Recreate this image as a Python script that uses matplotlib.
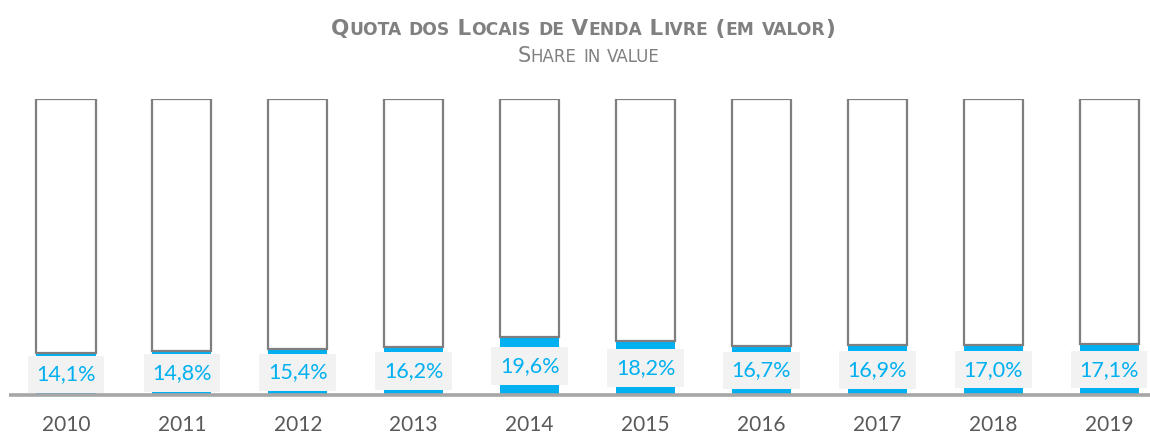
import matplotlib.pyplot as plt
plt.switch_backend('agg')

# Share of free-sale outlets, by year (percent)
years = ['2010', '2011', '2012', '2013', '2014', '2015', '2016', '2017', '2018', '2019']
share = [14.1, 14.8, 15.4, 16.2, 19.6, 18.2, 16.7, 16.9, 17.0, 17.1]

BLUE = '#00b0f0'
GRAY_EDGE = '#7f7f7f'
GRAY_TEXT = '#808080'
YEAR_TEXT = '#595959'

plt.rcParams['font.family'] = ['Lato', 'DejaVu Sans']

fig = plt.figure(figsize=(11.5, 4.36), dpi=100)
ax = fig.add_axes([0, 41 / 436, 1, 296 / 436])

x = list(range(len(years)))
rest = [100 - s for s in share]
ax.bar(x, share, width=0.51, color=BLUE, linewidth=0, zorder=2)
ax.bar(x, rest, bottom=share, width=0.51, color='white',
       edgecolor=GRAY_EDGE, linewidth=1.6, zorder=2)

# Value labels centred on the blue segment
for xi, s in zip(x, share):
  ax.text(xi, s / 2, ('%.1f%%' % s).replace('.', ','), ha='center', va='center',
          color=BLUE, fontsize=15.5, zorder=4,
          bbox=dict(boxstyle='square,pad=0.4', fc='#f2f2f2', ec='none'))

step = 115.9
ax.set_xlim(-66 / step, (1150 - 66) / step)
ax.set_ylim(0, 100)
ax.axis('off')

# Baseline
ax.plot([(9 - 66) / step, (1150 - 66) / step], [0, 0], color='#a6a6a6',
        linewidth=2.6, solid_capstyle='butt', zorder=5, clip_on=False)

for xi, y in zip(x, years):
  ax.text(xi, -10.1, y, ha='center', va='center', color=YEAR_TEXT, fontsize=15)


def small_caps(text, xc, yc, big, small, weight):
  # Draw text in small caps: capitals at full size, the rest as smaller capitals
  runs = []
  for ch in text:
    is_big = not ch.islower()
    if runs and runs[-1][1] == is_big:
      runs[-1][0] += ch
    else:
      runs.append([ch, is_big])
  arts = []
  for s, is_big in runs:
    t = fig.text(0, yc, s.upper(), fontsize=big if is_big else small,
                 fontweight=weight, color=GRAY_TEXT, family='DejaVu Sans',
                 ha='left', va='baseline')
    arts.append(t)
  fig.canvas.draw()
  r = fig.canvas.get_renderer()
  widths = [a.get_window_extent(r).width / fig.bbox.width for a in arts]
  xpos = xc - sum(widths) / 2
  for a, w in zip(arts, widths):
    a.set_x(xpos)
    xpos += w


small_caps('Quota dos Locais de Venda Livre (em valor)', 0.507, 1 - 35 / 436,
           15.5, 12.3, 'bold')
small_caps('Share in value', 0.512, 1 - 62 / 436, 15, 12, 'normal')

plt.savefig('out.png', dpi=100)
